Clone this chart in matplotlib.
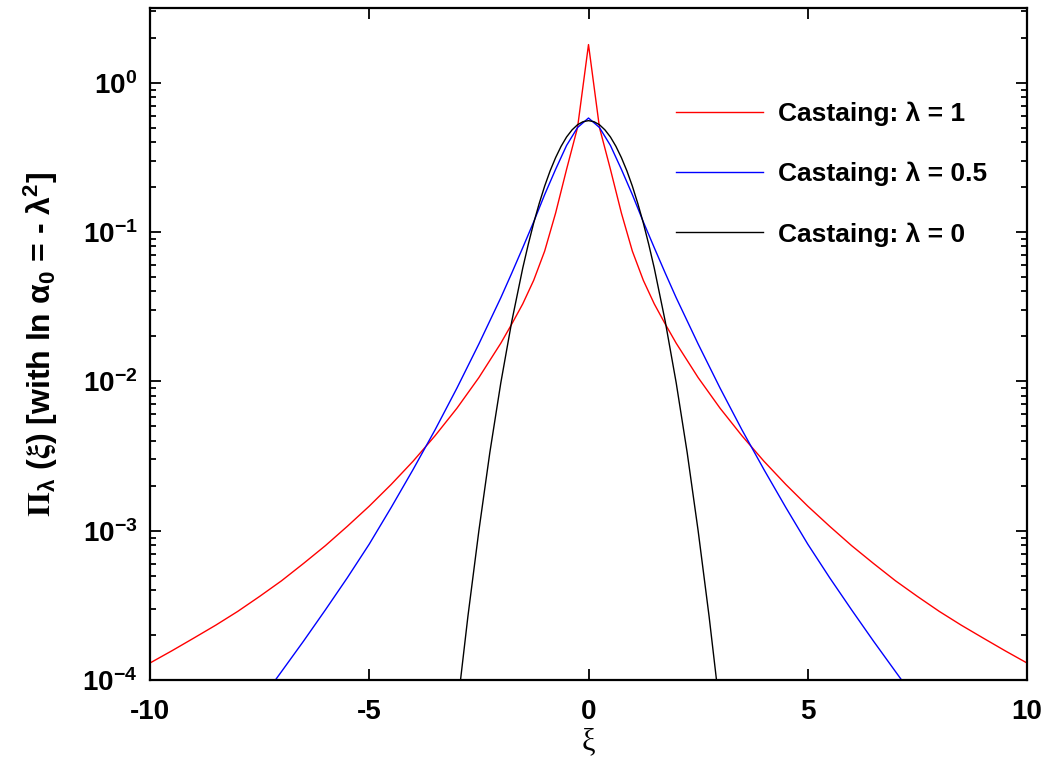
import matplotlib
matplotlib.use("Agg")
import matplotlib.pyplot as plt

plt.rcParams['font.family'] = ['Liberation Sans', 'DejaVu Sans']
plt.rcParams['font.weight'] = 'bold'
plt.rcParams['mathtext.fontset'] = 'stix'
plt.rcParams['mathtext.default'] = 'regular'
plt.rcParams['axes.unicode_minus'] = False

# values (log-scale y), curves are symmetric about 0
xi_red = [-10, -9.5, -9, -8.5, -8, -7.5, -7, -6.5, -6, -5.5, -5, -4.5, -4, -3.5, -3, -2.5, -2, -1.75, -1.5,
          -1.25, -1, -0.75, -0.5, -0.25, 0, 0.25, 0.5, 0.75, 1, 1.25, 1.5, 1.75, 2, 2.5, 3, 3.5, 4, 4.5, 5,
          5.5, 6, 6.5, 7, 7.5, 8, 8.5, 9, 9.5, 10]
pi_red = [1.30e-4, 1.57e-4, 1.91e-4, 2.33e-4, 2.88e-4, 3.63e-4, 4.62e-4, 6.03e-4, 7.94e-4, 1.07e-3, 1.46e-3,
          2.04e-3, 2.92e-3, 4.32e-3, 6.61e-3, 1.06e-2, 1.80e-2, 2.42e-2, 3.30e-2, 4.75e-2, 7.45e-2, 0.134,
          0.263, 0.501, 1.80, 0.501, 0.263, 0.134, 7.45e-2, 4.75e-2, 3.30e-2, 2.42e-2, 1.80e-2, 1.06e-2,
          6.61e-3, 4.32e-3, 2.92e-3, 2.04e-3, 1.46e-3, 1.07e-3, 7.94e-4, 6.03e-4, 4.62e-4, 3.63e-4, 2.88e-4,
          2.33e-4, 1.91e-4, 1.57e-4, 1.30e-4]

xi_blue = [-7.5, -7, -6.5, -6, -5.5, -5, -4.5, -4, -3.5, -3, -2.5, -2, -1.75, -1.5, -1.25, -1, -0.75, -0.5,
           -0.25, 0, 0.25, 0.5, 0.75, 1, 1.25, 1.5, 1.75, 2, 2.5, 3, 3.5, 4, 4.5, 5, 5.5, 6, 6.5, 7, 7.5]
pi_blue = [7.16e-5, 1.14e-4, 1.82e-4, 2.95e-4, 4.84e-4, 8.13e-4, 1.43e-3, 2.57e-3, 4.73e-3, 9.02e-3,
           1.78e-2, 3.63e-2, 5.31e-2, 7.85e-2, 0.117, 0.178, 0.263, 0.380, 0.501, 0.58, 0.501, 0.380, 0.263,
           0.178, 0.117, 7.85e-2, 5.31e-2, 3.63e-2, 1.78e-2, 9.02e-3, 4.73e-3, 2.57e-3, 1.43e-3, 8.13e-4,
           4.84e-4, 2.95e-4, 1.82e-4, 1.14e-4, 7.16e-5]

xi_black = [-3, -2.75, -2.5, -2.25, -2, -1.75, -1.5, -1.375, -1.25, -1.125, -1, -0.875, -0.75, -0.625, -0.5,
            -0.375, -0.25, -0.125, 0, 0.125, 0.25, 0.375, 0.5, 0.625, 0.75, 0.875, 1, 1.125, 1.25, 1.375,
            1.5, 1.75, 2, 2.25, 2.5, 2.75, 3]
pi_black = [6.24e-5, 2.67e-4, 1.00e-3, 3.34e-3, 9.77e-3, 2.52e-2, 5.73e-2, 8.24e-2, 0.115, 0.155, 0.203,
            0.257, 0.315, 0.375, 0.433, 0.483, 0.523, 0.548, 0.557, 0.548, 0.523, 0.483, 0.433, 0.375,
            0.315, 0.257, 0.203, 0.155, 0.115, 8.24e-2, 5.73e-2, 2.52e-2, 9.77e-3, 3.34e-3, 1.00e-3,
            2.67e-4, 6.24e-5]

labels = ["Castaing: λ = 1", "Castaing: λ = 0.5", "Castaing: λ = 0"]

fig = plt.figure(figsize=(10.44, 7.58), dpi=100)
ax = fig.add_axes([0.1437, 0.1029, 0.84, 0.8865])

ax.plot(xi_red, pi_red, color='red', lw=1.0, label=labels[0])
ax.plot(xi_blue, pi_blue, color='blue', lw=1.0, label=labels[1])
ax.plot(xi_black, pi_black, color='black', lw=1.0, label=labels[2])

ax.set_yscale('log')
ax.set_xlim(-10, 10)
ax.set_ylim(1e-4, 10 ** 0.5)
ax.set_xticks([-10, -5, 0, 5, 10])
ax.set_xticklabels(["-10", "-5", "0", "5", "10"])

ax.tick_params(which='both', direction='in', top=True, right=True, labelsize=20, width=1.3)
ax.tick_params(which='major', length=8)
ax.tick_params(which='minor', length=4.5)
ax.tick_params(axis='x', which='major', pad=14)
ax.tick_params(axis='y', which='major', pad=9)
ax.tick_params(axis='x', which='minor', bottom=False, top=False)
for s in ax.spines.values():
    s.set_linewidth(1.6)

ax.set_xlabel("ξ", family=['Liberation Serif'], fontweight='normal', fontsize=22, va='center')
ax.xaxis.set_label_coords(0.5, -0.092)
ax.set_ylabel(r"$\mathrm{\Pi}_{\mathregular{λ}}$ ($\mathrm{\xi}$) [with ln α$_\mathregular{0}$ = - λ$^\mathregular{2}$]",
              fontsize=23, fontweight='bold', va='center')
ax.yaxis.set_label_coords(-0.125, 0.5)

ax.legend(loc='center left', bbox_to_anchor=(0.600, 0.753), frameon=False, fontsize=19,
          handlelength=3.3, handletextpad=0.57, labelspacing=1.36, borderpad=0, borderaxespad=0)

fig.savefig("out.png", dpi=100)
